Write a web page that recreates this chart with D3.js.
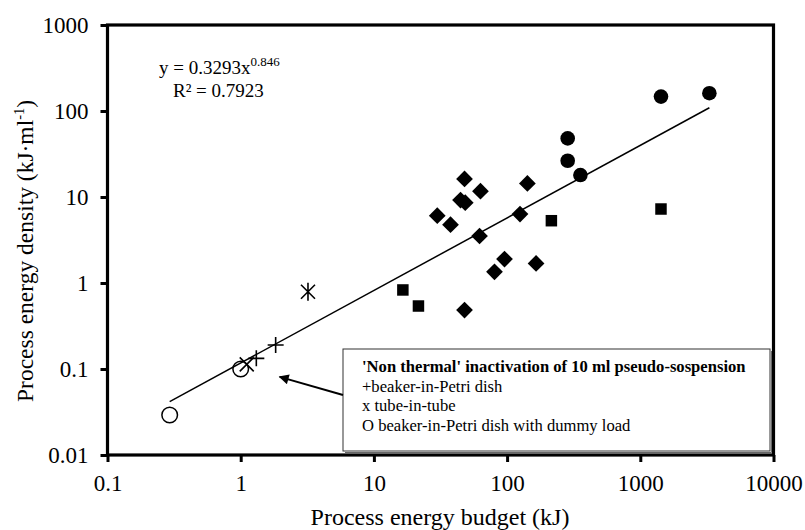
<!DOCTYPE html>
<html>
<head>
<meta charset="utf-8">
<script src="https://cdn.jsdelivr.net/npm/d3@7/dist/d3.min.js"></script>
<style>
  body { margin: 0; background: #fff; }
  svg { font-family: "Liberation Serif", "Times New Roman", serif; }
</style>
</head>
<body>
<svg></svg>
<script>
// tick values and labels
let xTicks = [0.1, 1, 10, 100, 1000, 10000];
let xTickLabels = ['0.1', '1', '10', '100', '1000', '10000'];
let yTicks = [0.01, 0.1, 1, 10, 100, 1000];
let yTickLabels = ['0.01', '0.1', '1', '10', '100', '1000'];

// filled circles
let circleX = [285, 285, 355, 1430, 3300];
let circleY = [48, 26.4, 18, 147, 161];

// filled squares
let squareX = [16.5, 21.6, 215, 1430];
let squareY = [0.83, 0.54, 5.3, 7.25];

// filled diamonds
let diamondX = [47.9, 63.1, 142, 44.7, 48.5, 29.9, 37.6, 125, 62.1, 95.6, 80.4, 165, 47.9];
let diamondY = [16.2, 11.7, 14.4, 9.2, 8.6, 6.06, 4.77, 6.34, 3.52, 1.90, 1.35, 1.69, 0.485];

// 'non thermal' 10 ml series
let plusX = [1.31, 1.83];
let plusY = [0.133, 0.190];
let crossX = [1.11];
let crossY = [0.113];
let openX = [0.293, 1.0];
let openY = [0.0292, 0.1];

// star marker
let starX = [3.2];
let starY = [0.79];

// power trend line end points
let trendX = [0.293, 3300];
let trendY = [0.0417, 109];

// arrow tip (data coords)
let arrowTip = [1.96, 0.081];

let legendLines = [
    "'Non thermal' inactivation of 10 ml pseudo-sospension",
    '+beaker-in-Petri dish',
    'x tube-in-tube',
    'O beaker-in-Petri dish with dummy load'
];

let width = 805;
let height = 530;
let margin = { top: 25, left: 107.5, right: 31.5, bottom: 75 };

let svg = d3.select('svg')
    .attr('width', width)
    .attr('height', height);

let x = d3.scaleLog()
    .domain([0.1, 10000])
    .range([margin.left, width - margin.right]);

let y = d3.scaleLog()
    .domain([0.01, 1000])
    .range([height - margin.bottom, margin.top]);

let zip = (xs, ys) => xs.map((v, i) => [v, ys[i]]);

// axes
let xAxis = svg.append('g')
    .attr('transform', 'translate(0,' + (height - margin.bottom) + ')')
    .call(d3.axisBottom(x)
        .tickValues(xTicks)
        .tickFormat((d, i) => xTickLabels[i])
        .tickSize(7)
        .tickPadding(12.5));
xAxis.select('.domain').remove();
xAxis.selectAll('line').attr('stroke', '#000').attr('stroke-width', 3);
xAxis.selectAll('text')
    .attr('font-size', 23)
    .attr('font-family', 'Liberation Serif')
    .attr('fill', '#000');

let yAxis = svg.append('g')
    .attr('transform', 'translate(' + margin.left + ',0)')
    .call(d3.axisLeft(y)
        .tickValues(yTicks)
        .tickFormat((d, i) => yTickLabels[i])
        .tickSize(7)
        .tickPadding(12));
yAxis.select('.domain').remove();
yAxis.selectAll('line').attr('stroke', '#000').attr('stroke-width', 3);
yAxis.selectAll('text')
    .attr('font-size', 23)
    .attr('font-family', 'Liberation Serif')
    .attr('fill', '#000');

// frame
svg.append('rect')
    .attr('x', x(0.1))
    .attr('y', y(1000))
    .attr('width', x(10000) - x(0.1))
    .attr('height', y(0.01) - y(1000))
    .attr('fill', 'none')
    .attr('stroke', '#000')
    .attr('stroke-width', 3.2);

// trend line
svg.append('path')
    .datum(zip(trendX, trendY))
    .attr('d', d3.line().x(d => x(d[0])).y(d => y(d[1])))
    .attr('fill', 'none')
    .attr('stroke', '#000')
    .attr('stroke-width', 1.5);

// markers
svg.append('g').selectAll('circle')
    .data(zip(circleX, circleY))
    .enter().append('circle')
    .attr('cx', d => x(d[0]))
    .attr('cy', d => y(d[1]))
    .attr('r', 7.3)
    .attr('fill', '#000');

svg.append('g').selectAll('path')
    .data(zip(squareX, squareY))
    .enter().append('path')
    .attr('d', d3.symbol(d3.symbolSquare, 132))
    .attr('transform', d => 'translate(' + x(d[0]) + ',' + y(d[1]) + ')')
    .attr('fill', '#000');

svg.append('g').selectAll('path')
    .data(zip(diamondX, diamondY))
    .enter().append('path')
    .attr('d', d3.symbol(d3.symbolSquare, 140))
    .attr('transform', d => 'translate(' + x(d[0]) + ',' + y(d[1]) + ') rotate(45)')
    .attr('fill', '#000');

svg.append('g').selectAll('circle')
    .data(zip(openX, openY))
    .enter().append('circle')
    .attr('cx', d => x(d[0]))
    .attr('cy', d => y(d[1]))
    .attr('r', 7.8)
    .attr('fill', 'none')
    .attr('stroke', '#000')
    .attr('stroke-width', 1.5);

let lineMarker = (data, d) => svg.append('g').selectAll('path')
    .data(data)
    .enter().append('path')
    .attr('d', d)
    .attr('transform', p => 'translate(' + x(p[0]) + ',' + y(p[1]) + ')')
    .attr('fill', 'none')
    .attr('stroke', '#000')
    .attr('stroke-width', 1.6);

lineMarker(zip(plusX, plusY), 'M-8,0H8M0,-8V8');
lineMarker(zip(crossX, crossY), 'M-7,-7L7,7M-7,7L7,-7');
lineMarker(zip(starX, starY), 'M-7,-7L7,7M-7,7L7,-7M0,-9V9');

// equation
let eq = svg.append('text')
    .attr('x', 159)
    .attr('y', 74)
    .attr('font-size', 19);
eq.append('tspan').text('y = 0.3293x');
eq.append('tspan').attr('font-size', 13).attr('dy', -8).text('0.846');

svg.append('text')
    .attr('x', 173)
    .attr('y', 96.5)
    .attr('font-size', 19)
    .text('R² = 0.7923');

// legend box
let box = { x: 343, y: 349, w: 427, h: 102 };
svg.append('path')
    .attr('d', 'M' + (box.x + 2) + ',' + (box.y + box.h + 1.5) + 'H' + (box.x + box.w + 1.5) + 'V' + (box.y + 2))
    .attr('fill', 'none')
    .attr('stroke', '#666')
    .attr('stroke-width', 1);
svg.append('rect')
    .attr('x', box.x)
    .attr('y', box.y)
    .attr('width', box.w)
    .attr('height', box.h)
    .attr('fill', '#fff')
    .attr('stroke', '#333')
    .attr('stroke-width', 1);

svg.append('g').selectAll('text')
    .data(legendLines)
    .enter().append('text')
    .attr('x', box.x + 19)
    .attr('y', (d, i) => box.y + 23 + i * 19.7)
    .attr('font-size', 16.6)
    .attr('font-weight', (d, i) => i === 0 ? 'bold' : 'normal')
    .text(d => d);

// arrow
svg.append('defs').append('marker')
    .attr('id', 'head')
    .attr('viewBox', '0 0 10 10')
    .attr('refX', 9)
    .attr('refY', 5)
    .attr('markerWidth', 7)
    .attr('markerHeight', 5)
    .attr('markerUnits', 'strokeWidth')
    .attr('orient', 'auto')
    .append('path')
    .attr('d', 'M0,0L10,5L0,10Z')
    .attr('fill', '#000');

svg.append('line')
    .attr('x1', box.x)
    .attr('y1', box.y + 46)
    .attr('x2', x(arrowTip[0]))
    .attr('y2', y(arrowTip[1]))
    .attr('stroke', '#000')
    .attr('stroke-width', 2)
    .attr('marker-end', 'url(#head)');

// axis titles
svg.append('text')
    .attr('x', 440)
    .attr('y', 525)
    .attr('text-anchor', 'middle')
    .attr('font-size', 24)
    .text('Process energy budget (kJ)');

let yt = svg.append('text')
    .attr('transform', 'translate(33,402) rotate(-90)')
    .attr('text-anchor', 'start')
    .attr('font-size', 23.5);
yt.append('tspan').text('Process energy density (kJ·ml');
yt.append('tspan').attr('font-size', 14.5).attr('dy', -9).text('-1');
yt.append('tspan').attr('dy', 9).text(')');
</script>
</body>
</html>
